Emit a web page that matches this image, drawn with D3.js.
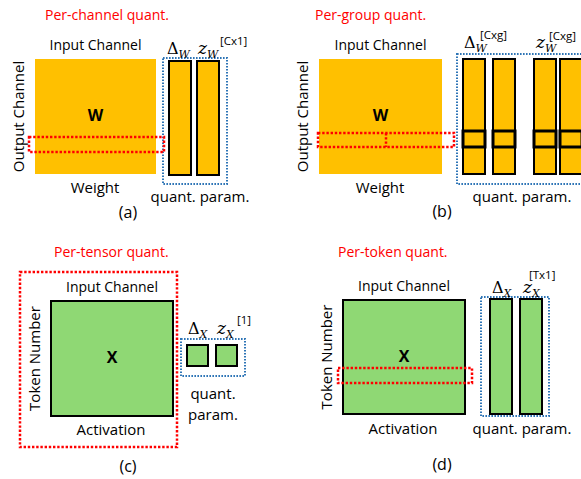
<!DOCTYPE html>
<html>
<head>
<meta charset="utf-8">
<script src="https://cdn.jsdelivr.net/npm/d3@7"></script>
<style>
  body { margin: 0; background: #fff; }
  text { font-family: "Open Sans", sans-serif; }
</style>
</head>
<body>
<div id="canvas"></div>
<script>
"use strict"

/* Diagram text */
let panelTags = ["(a)", "(b)", "(c)", "(d)"];
let titles = ["Per-channel quant.", "Per-group quant.", "Per-tensor quant.", "Per-token quant."];
let topLabels = ["Input Channel", "Input Channel", "Input Channel", "Input Channel"];
let sideLabels = ["Output Channel", "Output Channel", "Token Number", "Token Number"];
let bottomLabels = ["Weight", "Weight", "Activation", "Activation"];
let matrixNames = ["W", "W", "X", "X"];
let shapeTags = ["[Cx1]", "[Cxg]", "[1]", "[Tx1]"];
let deltaTagged = [false, true, false, false];
let paramCounts = [2, 4, 2, 2];

let svgWidth = 581;
let svgHeight = 479;

let svg = d3.select("#canvas")
    .append("svg")
    .attr("width", svgWidth)
    .attr("height", svgHeight);

let orange = "#FFC000";
let green = "#8FD874";
let red = "#FF0000";
let blue = "#2E75B6";

function dotted(x, y, w, h, color, sw, dash) {
    svg.append("rect")
        .attr("x", x).attr("y", y)
        .attr("width", w).attr("height", h)
        .attr("fill", "none")
        .attr("stroke", color)
        .attr("stroke-width", sw)
        .attr("stroke-dasharray", dash);
}

function label(x, y, str, size, anchor) {
    return svg.append("text")
        .attr("x", x).attr("y", y)
        .attr("text-anchor", anchor || "middle")
        .style("font-size", size + "px")
        .style("fill", "#000")
        .text(str);
}

function tagText(x, y, tag) {
    svg.append("text").attr("x", x).attr("y", y)
        .style("font-size", "11.5px").text(tag);
}

/* delta_sub and z_sub^[tag] */
function paramLabel(xd, xz, yBase, sub, tag, tagX, tagY, withDeltaTag) {
    let t = svg.append("text").attr("x", xd).attr("y", yBase)
        .style("font-family", "'DejaVu Serif', serif").style("font-size", "16px");
    t.append("tspan").text("\u0394");
    t.append("tspan").attr("dy", 4).style("font-style", "italic").style("font-size", "11px").text(sub);
    let z = svg.append("text").attr("x", xz).attr("y", yBase)
        .style("font-family", "'DejaVu Serif', serif").style("font-size", "17px");
    z.append("tspan").style("font-style", "italic").text("z");
    z.append("tspan").attr("dy", 4).style("font-style", "italic").style("font-size", "11px").text(sub);
    tagText(tagX, tagY, tag);
    if (withDeltaTag) tagText(xd + 16, tagY - 1, tag);
}

/* layouts for the four panels */
let layouts = [
    { title: [45, 20], m: [35, 59, 121, 115], fill: orange, border: false,
      side: 19, box: [163, 58, 64, 126], barsY: [61, 114], barW: 22,
      bars: [169, 197], sel: [29, 137, 135, 15],
      qp: [200, 202], bottom: [95, 193], tag: [128, 218],
      pl: [167, 198, 54, 220, 45] },
    { title: [315, 20], m: [319, 59, 123, 115], fill: orange, border: false,
      side: 303, box: [457, 54, 130, 130], barsY: [59, 115], barW: 22,
      bars: [463, 493, 534, 560], sel: [318, 133, 136, 14],
      qp: [522, 202], bottom: [380, 193], tag: [442, 217],
      pl: [464, 536, 48, 549, 40] },
    { title: [54, 257], m: [51, 301, 122, 115], fill: green, border: true,
      side: 35, box: [181, 339, 64, 37], barsY: [345, 21], barW: 21,
      bars: [187, 216], sel: null,
      qp: [213, 399], bottom: [111, 435], tag: [128, 472],
      pl: [188, 217, 334, 237, 324] },
    { title: [338, 257], m: [343, 300, 122, 114], fill: green, border: true,
      side: 327, box: [481, 297, 68, 119], barsY: [299, 115], barW: 22,
      bars: [490, 520], sel: [338, 368, 134, 15],
      qp: [522, 434], bottom: [403, 434], tag: [442, 470],
      pl: [492, 523, 293, 529, 279] }
];

let sizeScale = d3.scaleLinear().domain([0, 1]).range([0, 1]);

layouts.forEach(function (L, i) {
    /* title */
    svg.append("text")
        .attr("x", L.title[0]).attr("y", L.title[1])
        .style("font-size", "14px")
        .style("fill", red)
        .text(titles[i]);

    /* matrix */
    let m = svg.append("rect")
        .attr("x", L.m[0]).attr("y", L.m[1])
        .attr("width", sizeScale(1) * L.m[2]).attr("height", L.m[3])
        .attr("fill", L.fill);
    if (L.border) m.attr("stroke", "#000").attr("stroke-width", 2);

    svg.append("text")
        .attr("x", L.m[0] + L.m[2] / 2).attr("y", L.m[1] + 62)
        .attr("text-anchor", "middle")
        .style("font-size", "16px").style("font-weight", "bold")
        .text(matrixNames[i]);

    label(L.m[0] + L.m[2] / 2, L.m[1] - 9, topLabels[i], 14);
    label(L.bottom[0], L.bottom[1], bottomLabels[i], 15);

    svg.append("text")
        .attr("transform", "translate(" + (L.side + 5) + "," + (L.m[1] + L.m[3] / 2) + ") rotate(-90)")
        .attr("text-anchor", "middle")
        .style("font-size", "15px")
        .text(sideLabels[i]);

    /* parameter bars */
    let bw = L.barW;
    svg.selectAll(null)
        .data(d3.range(paramCounts[i]))
        .join("rect")
        .attr("x", function (k) { return L.bars[k]; })
        .attr("y", L.barsY[0])
        .attr("width", bw)
        .attr("height", L.barsY[1])
        .attr("fill", L.fill)
        .attr("stroke", "#000")
        .attr("stroke-width", 2);

    if (i === 1) {
        svg.selectAll(null)
            .data(d3.range(paramCounts[i]))
            .join("rect")
            .attr("x", function (k) { return L.bars[k]; })
            .attr("y", 131)
            .attr("width", bw)
            .attr("height", 16)
            .attr("fill", "none")
            .attr("stroke", "#000")
            .attr("stroke-width", 3);
    }

    /* quant. param. box and label */
    dotted(L.box[0], L.box[1], L.box[2], L.box[3], blue, 2, "1.6,1.4");
    if (i === 2) {
        label(L.qp[0], L.qp[1], "quant.", 15);
        label(L.qp[0], L.qp[1] + 21, "param.", 15);
    } else {
        label(L.qp[0], L.qp[1], "quant. param.", 15);
    }

    paramLabel(L.pl[0], L.pl[1], L.pl[2], matrixNames[i], shapeTags[i], L.pl[3], L.pl[4], deltaTagged[i]);

    /* selection highlight */
    if (L.sel) {
        dotted(L.sel[0], L.sel[1], L.sel[2], L.sel[3], red, 2.5, "2.4,1.8");
    }
    if (i === 1) {
        svg.append("line")
            .attr("x1", 386).attr("x2", 386)
            .attr("y1", 133).attr("y2", 147)
            .attr("stroke", red).attr("stroke-width", 2.5)
            .attr("stroke-dasharray", "2.4,1.8");
    }
    if (i === 2) {
        dotted(20, 272, 157, 175, red, 2.5, "2.4,1.8");
    }

    label(L.tag[0], L.tag[1], panelTags[i], 16);
});
</script>
</body>
</html>
